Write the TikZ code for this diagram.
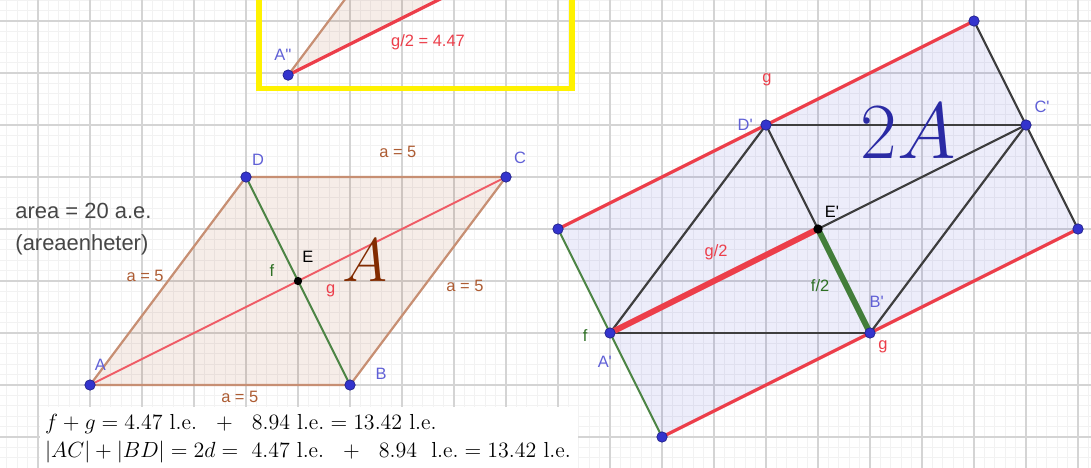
\documentclass[tikz,border=0pt]{standalone}
\usepackage{amsmath}
\usepackage{fontspec}
\newfontfamily\ggbfont{Liberation Sans}
\usetikzlibrary{calc}

\definecolor{ggbbrown}{RGB}{153,51,0}
\definecolor{ggbred}{RGB}{236,62,74}
\definecolor{ggbgreen}{RGB}{46,112,36}
\definecolor{ggbblue}{RGB}{52,52,205}
\definecolor{ggblabel}{RGB}{96,96,214}
\definecolor{ggbgrey}{RGB}{62,62,62}
\definecolor{ggbtext}{RGB}{70,70,70}

\tikzset{
  minorgrid/.style={draw=black!5, line width=0.5pt},
  majorgrid/.style={draw=black!17, line width=0.7pt},
  brownside/.style={draw=ggbbrown!55, line width=1.2pt},
  redthin/.style={draw=ggbred!85, line width=1pt},
  greenthin/.style={draw=ggbgreen!85, line width=1.1pt},
  redthick/.style={draw=ggbred, line width=3.2pt},
  greenthick/.style={draw=ggbgreen!90, line width=3.2pt},
  redouter/.style={draw=ggbred, line width=1.8pt},
  darkline/.style={draw=ggbgrey, line width=1.2pt},
  ptblue/.style={fill=ggbblue, draw=ggbblue!70!black, line width=0.4pt},
  lbl/.style={font=\ggbfont\fontsize{9}{10}\selectfont, inner sep=0pt},
  bigtext/.style={font=\ggbfont\fontsize{12}{14}\selectfont, text=ggbtext, anchor=west, inner sep=0pt},
  formula/.style={font=\fontsize{11.9}{14}\selectfont, anchor=west, inner sep=0pt}
}

\begin{document}
\begin{tikzpicture}
        \useasboundingbox (-1.731,-1.577) rectangle (19.25,7.404);
        % grid
        \draw[minorgrid, step=0.2] (-1.8,-1.6) grid (19.3,7.5);
        \draw[majorgrid, step=1] (-1.8,-1.6) grid (19.3,7.5);

        % parallelogram ABCD
        \coordinate (A) at (0,0);
        \coordinate (B) at (5,0);
        \coordinate (C) at (8,4);
        \coordinate (D) at (3,4);
        \coordinate (E) at (4,2);
        \fill[ggbbrown, opacity=0.09] (A) -- (B) -- (C) -- (D) -- cycle;
        \draw[brownside] (A) -- (B) -- (C) -- (D) -- cycle;
        \draw[redthin] (A) -- (C);
        \draw[greenthin] (B) -- (D);

        % doubled figure
        \coordinate (P1) at (9,3);
        \coordinate (P2) at (17,7);
        \coordinate (P3) at (19,3);
        \coordinate (P4) at (11,-1);
        \coordinate (A') at (10,1);
        \coordinate (B') at (15,1);
        \coordinate (C') at (18,5);
        \coordinate (D') at (13,5);
        \coordinate (E') at (14,3);
        \fill[ggbblue, opacity=0.09] (P1) -- (P2) -- (P3) -- (P4) -- cycle;
        \draw[greenthin] (P1) -- (P4);
        \draw[darkline] (P2) -- (P3);
        \draw[redouter] (P1) -- (P2);
        \draw[redouter] (P4) -- (P3);
        \draw[darkline] (D') -- (C');
        \draw[darkline] (A') -- (B');
        \draw[darkline] (A') -- (D');
        \draw[darkline] (B') -- (C');
        \draw[darkline] (D') -- (E') -- (C');
        \draw[redthick] (A') -- (E');
        \draw[greenthick] (E') -- (B');

        % yellow box
        \coordinate (A'') at (3.81,5.96);
        \coordinate (Ybl) at (3.25,5.71);
        \coordinate (Ytr) at (9.27,7.9);
        \fill[ggbbrown, opacity=0.09] (A'') -- ($(A'')+(1.2,1.6)$) -- ($(A'')+(3.2,1.6)$) -- cycle;
        \draw[brownside] (A'') -- ($(A'')+(1.2,1.6)$);
        \draw[redouter] (A'') -- ($(A'')+(3.2,1.6)$);
        \draw[yellow, line width=2.8pt] (Ybl) rectangle (Ytr);

        % points
        \foreach \p in {A,B,C,D,P1,P2,P3,P4,A',B',C',D',A''}
          \filldraw[ptblue] (\p) circle (0.1);
        \fill[black] (E) circle (0.08);
        \fill[black] (E') circle (0.09);

        % labels left
        \node[lbl, text=ggblabel] (lA) at (0.2,0.38) {A};
        \node[lbl, text=ggblabel] (lB) at (5.6,0.21) {B};
        \node[lbl, text=ggblabel] (lC) at (8.27,4.37) {C};
        \node[lbl, text=ggblabel] (lD) at (3.23,4.33) {D};
        \node[lbl, text=black] (lE) at (4.19,2.46) {E};
        \node[lbl, text=ggbgreen] (lf) at (3.5,2.21) {f};
        \node[lbl, text=ggbred] (lg) at (4.63,1.81) {g};
        \node[lbl, text=ggbbrown!80] (aTop) at (5.92,4.48) {a = 5};
        \node[lbl, text=ggbbrown!80] (aRight) at (7.21,1.9) {a = 5};
        \node[lbl, text=ggbbrown!80] (aLeft) at (1.06,2.1) {a = 5};
        \node[lbl, text=ggbbrown!80] (aBottom) at (2.88,-0.23) {a = 5};
        \node[text=ggbbrown!85!black, font=\Huge, scale=1.35] (bigA) at (5.29,2.4) {$A$};

        % labels right
        \node[lbl, text=ggbred] (gTop) at (13.02,5.87) {g};
        \node[lbl, text=ggblabel] (lD') at (12.6,5.0) {D'};
        \node[lbl, text=ggblabel] (lC') at (18.31,5.35) {C'};
        \node[lbl, text=black] (lE') at (14.27,3.33) {E'};
        \node[lbl, text=ggbred] (g2) at (12.04,2.56) {g/2};
        \node[lbl, text=ggbgreen] (f2) at (14.04,1.92) {f/2};
        \node[lbl, text=ggblabel] (lB') at (15.13,1.6) {B'};
        \node[lbl, text=ggbred] (gBot) at (15.25,0.73) {g};
        \node[lbl, text=ggbgreen] (fLeft) at (9.52,0.96) {f};
        \node[lbl, text=ggblabel] (lA') at (9.9,0.44) {A'};
        \node[text=ggbblue!80!black, font=\Huge, scale=1.75] (bigTwoA) at (15.73,4.88) {$2A$};

        % labels yellow box
        \node[lbl, text=ggblabel] (lA'') at (3.71,6.35) {A''};
        \node[lbl, text=ggbred] (g2val) at (6.5,6.6) {g/2 = 4.47};

        % texts
        \node[bigtext] (area) at (-1.44,3.35) {area = 20 a.e.};
        \node[bigtext] (unit) at (-1.44,2.69) {(areaenheter)};
        \fill[white] (-0.96,-0.42) rectangle (9.38,-1.6);
        \node[formula] (sumfg) at (-0.87,-0.75)
          {$f+g=4.47\ \mathrm{l.e.}\ \ +\ \ 8.94\ \mathrm{l.e.}=13.42\ \mathrm{l.e.}$};
        \node[formula] (sumdiag) at (-0.87,-1.29)
          {$|AC|+|BD|=2d=\ 4.47\ \mathrm{l.e.}\ \ +\ \ 8.94\ \ \mathrm{l.e.}=13.42\ \mathrm{l.e.}$};
\end{tikzpicture}
\end{document}
